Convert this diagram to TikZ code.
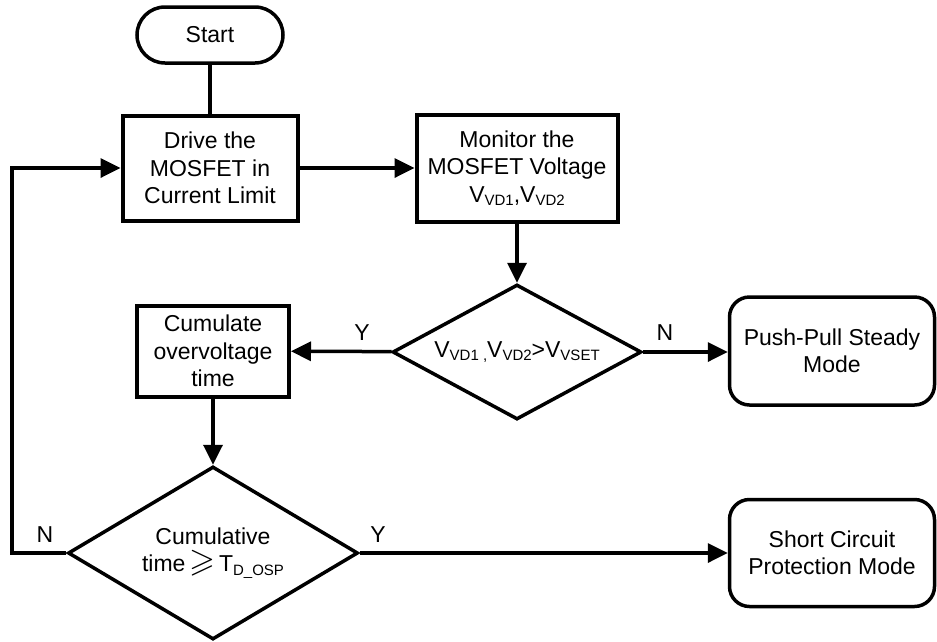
\documentclass[tikz,border=0pt]{standalone}
\usepackage{fontspec}
\usepackage{amssymb}
\usepackage{graphicx}
\setmainfont{Liberation Sans}
\usetikzlibrary{arrows.meta,shapes.geometric}
\newcommand{\mysub}[1]{\raisebox{-0.3ex}{\fontsize{15}{15}\selectfont #1}}
\begin{document}
\begin{tikzpicture}[x=1pt,y=-1pt,
  every node/.style={font=\fontsize{23}{27.5}\selectfont},
  boxnode/.style={draw,line width=4pt,rectangle,align=center,inner sep=0pt},
  termnode/.style={draw,line width=3.5pt,rectangle,rounded corners=20pt,align=center,inner sep=0pt},
  decnode/.style={draw,line width=3.5pt,diamond,aspect=2,align=center,inner sep=0pt},
  conn/.style={line width=3.5pt},
  arr/.style={conn,-{Triangle[length=20pt,width=19pt]}},
  lbl/.style={inner sep=0pt}]
\useasboundingbox (0,0) rectangle (937,641);
\node[termnode,rounded corners=28pt,minimum width=146pt,minimum height=56pt] (start) at (210,35) {Start};
\node[boxnode,minimum width=175pt,minimum height=105pt] (drive) at (210,168) {Drive the\\MOSFET in\\Current Limit};
\node[boxnode,minimum width=201pt,minimum height=107pt] (mon) at (517,168) {Monitor the\\MOSFET Voltage\\V\mysub{VD1},V\mysub{VD2}};
\node[decnode,minimum width=249pt,minimum height=135pt] (d1) at (517,352) {V\mysub{VD1 ,}V\mysub{VD2}>V\mysub{VSET}};
\node[termnode,minimum width=205pt,minimum height=108pt] (pp) at (832,351) {Push-Pull Steady\\Mode};
\node[boxnode,minimum width=152pt,minimum height=91pt] (cum) at (213,351) {Cumulate\\overvoltage\\time};
\node[decnode,minimum width=290pt,minimum height=173pt] (d2) at (213,553) {Cumulative\\time\,\scalebox{1.45}{$\geqslant$}\,T\mysub{D\_OSP}};
\node[termnode,minimum width=205pt,minimum height=107pt] (sc) at (832,553) {Short Circuit\\Protection Mode};
\coordinate (lb) at (12,553);
\coordinate (lt) at (12,168);
\draw[conn] (start) -- (drive);
\draw[arr] (drive) -- (mon);
\draw[arr] (mon) -- (d1);
\draw[arr] (d1) -- (cum);
\draw[arr] (d1) -- (pp.west |- d1.east);
\draw[arr] (cum) -- (d2);
\draw[arr] (d2) -- (sc);
\draw[arr] (d2.west) -- (lb) -- (lt) -- (drive.west);
\node[lbl] (y1) at (362,333) {Y};
\node[lbl] (n1) at (665,333) {N};
\node[lbl] (n2) at (45,535) {N};
\node[lbl] (y2) at (378,535) {Y};
\end{tikzpicture}
\end{document}
